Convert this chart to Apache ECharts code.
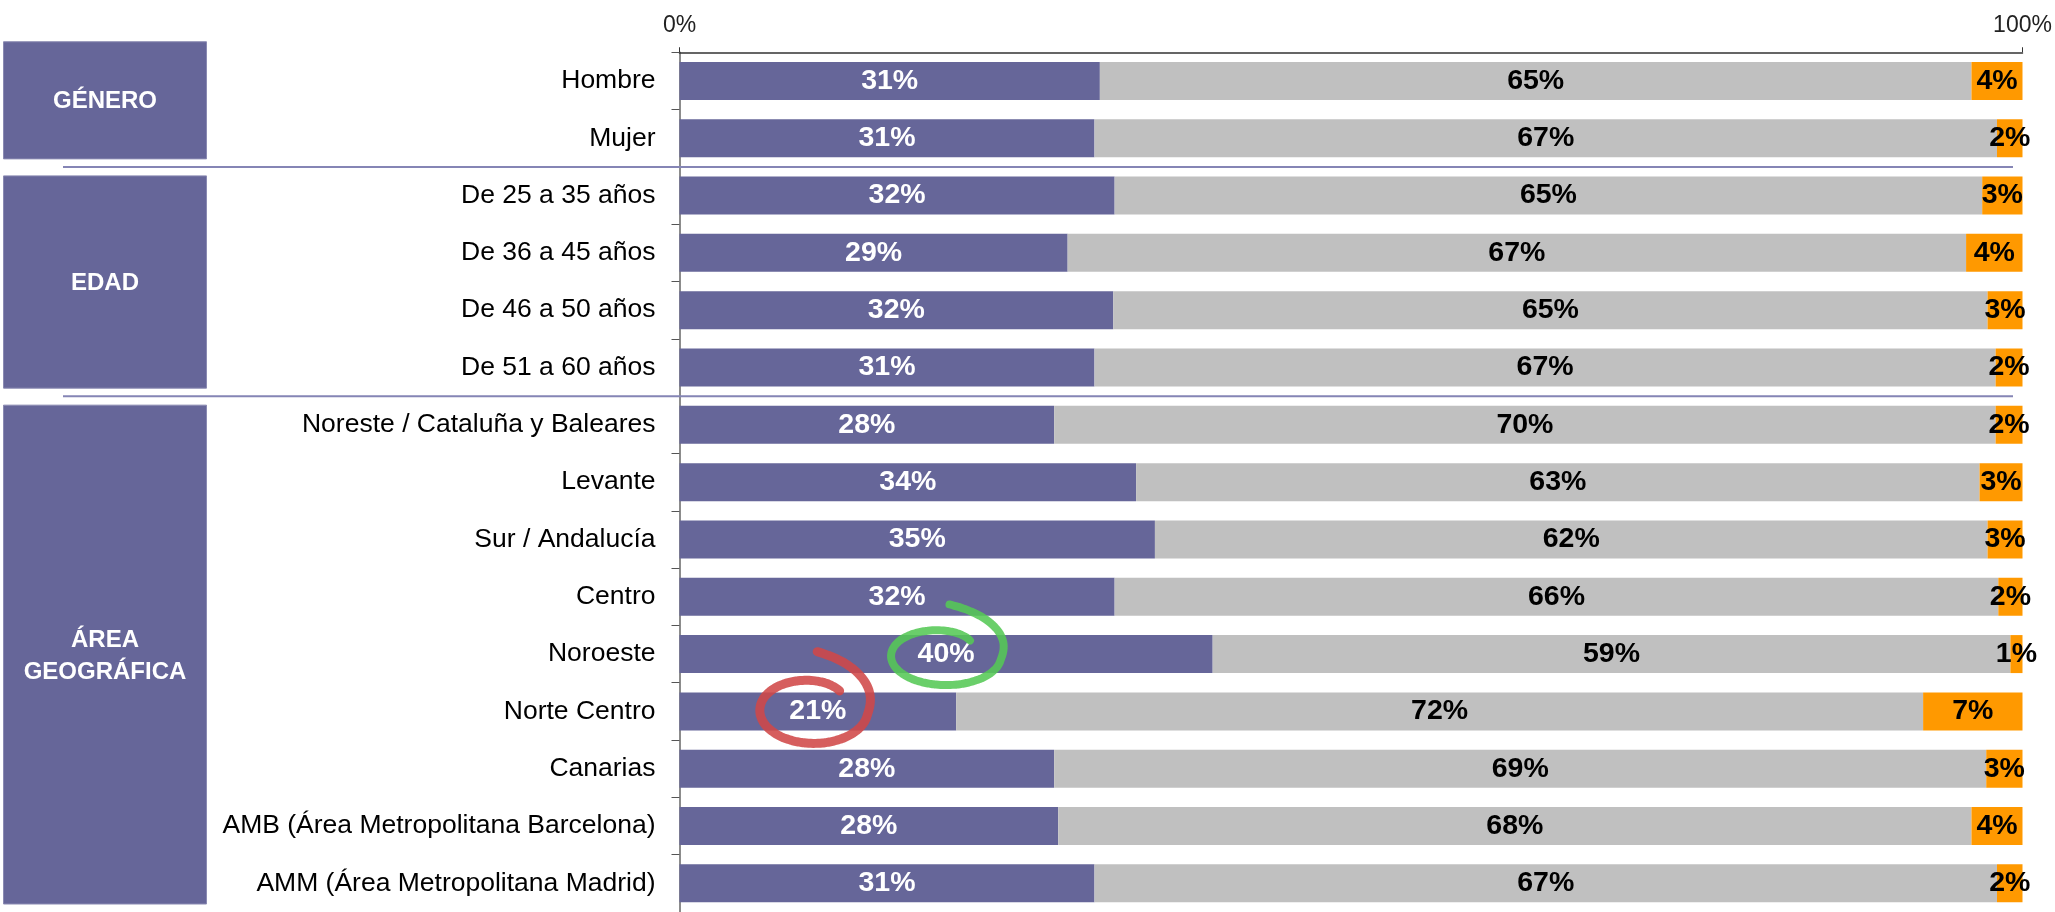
<!DOCTYPE html>
<html><head><meta charset="utf-8">
<script src="https://cdn.jsdelivr.net/npm/echarts@6/dist/echarts.min.js"></script>
<style>html,body{margin:0;padding:0;background:#fff;overflow:hidden}#c{width:2055px;height:912px}</style>
</head><body><div id="c"></div>
<script>
const categories = ['Hombre','Mujer','De 25 a 35 años','De 36 a 45 años','De 46 a 50 años','De 51 a 60 años','Noreste / Cataluña y Baleares','Levante','Sur / Andalucía','Centro','Noroeste','Norte Centro','Canarias','AMB (Área Metropolitana Barcelona)','AMM (Área Metropolitana Madrid)'];
const purple = [31.3,30.9,32.4,28.9,32.3,30.9,27.9,34.0,35.4,32.4,39.7,20.6,27.9,28.2,30.9];
const gray   = [64.9,67.2,64.6,66.9,65.1,67.1,70.1,62.8,62.0,65.8,59.4,72.0,69.4,68.0,67.2];
const orange = [3.8,1.9,3.0,4.2,2.6,2.0,2.0,3.2,2.6,1.8,0.9,7.4,2.7,3.8,1.9];
const xTickValues = [0,100];
const groupNames = ['GÉNERO','EDAD','ÁREA\nGEOGRÁFICA'];
const groupSizes = [2,4,9];
const redRow = 11, greenRow = 10;

const FONT = 'Liberation Sans, Arial, sans-serif';
const chart = echarts.init(document.getElementById('c'), null, {renderer:'canvas'});
const lbl = (color) => ({show:true, position:'inside', color:color, fontSize:28.5, fontWeight:'bold', fontFamily:FONT,
  formatter: p => Math.round(p.value) + '%'});
const option = {
  animation:false,
  textStyle:{fontFamily:FONT},
  grid:{left:679.5, top:52.25, width:1343, height:862.5, containLabel:false},
  xAxis:{type:'value', position:'top', min:xTickValues[0], max:xTickValues[1], interval:100,
    axisLine:{show:true, lineStyle:{color:'#333', width:1.5}},
    axisTick:{show:true, length:5, lineStyle:{color:'#333'}},
    axisLabel:{formatter: v => v + '%', fontSize:23, color:'#222', margin:15, fontFamily:FONT},
    splitLine:{show:false}},
  yAxis:{type:'category', inverse:true, data:categories,
    axisLine:{show:true, lineStyle:{color:'#666', width:1.5}},
    axisTick:{show:true, length:8, lineStyle:{color:'#555'}},
    axisLabel:{fontSize:26.5, color:'#000', margin:24, fontFamily:FONT}},
  series:[
    {type:'bar', stack:'s', data:purple, barWidth:38, itemStyle:{color:'#666699'}, label:lbl('#fff')},
    {type:'bar', stack:'s', data:gray, barWidth:38, itemStyle:{color:'#C0C0C0'}, label:lbl('#000')},
    {type:'bar', stack:'s', data:orange, barWidth:38, itemStyle:{color:'#FF9900'}, label:lbl('#000')}
  ]
};
chart.setOption(option);

const px = (v,i) => chart.convertToPixel({gridIndex:0}, [v,i]);
const band = px(0,1)[1] - px(0,0)[1];
const boundary = i => px(0,i)[1] - band/2;

function spiral(cx, cy, rx, ry, r0){
  const pts=[]; const a0=-51*Math.PI/180; const N=160; const sweep=397;
  for(let k=0;k<=N;k++){
    const u=sweep*k/N;
    const r = 1 - (1-r0)*Math.pow(Math.max(0,1-u/110),2) + 0.78*Math.pow(Math.max(0,(u-300)/97),1.6);
    const a = a0 - u*Math.PI/180;
    pts.push([cx+rx*r*Math.cos(a), cy+ry*r*Math.sin(a)]);
  }
  return pts;
}

const g = [];
let start = 0;
groupSizes.forEach((n, gi) => {
  const top = boundary(start) + (gi===0 ? -10.5 : 9);
  const bottom = Math.min(boundary(start+n) - 8, 930);
  g.push({type:'rect', shape:{x:3.5, y:top, width:203, height:bottom-top},
    style:{fill:'#666699', stroke:'#8a8ab2', lineWidth:1}, z:10});
  g.push({type:'text', x:105, y:(top+Math.min(bottom,915))/2 + 1.5, z:11,
    style:{text:groupNames[gi], fill:'#fff', font:'bold 24px ' + FONT, align:'center', verticalAlign:'middle', lineHeight:32}});
  if (gi>0){
    const y = boundary(start);
    g.push({type:'line', shape:{x1:63, y1:y, x2:2013, y2:y}, style:{stroke:'#8585b5', lineWidth:2}, z:10});
  }
  start += n;
});
const rc = px(purple[redRow]/2, redRow);
g.push({type:'polyline', shape:{points:spiral(rc[0]-4, rc[1]-1, 54, 33, 0.76), smooth:0.3},
  style:{stroke:'rgba(208,72,72,0.88)', lineWidth:9, fill:null, lineCap:'round', lineJoin:'round'}, z:20});
const gc = px(purple[greenRow]/2, greenRow);
g.push({type:'polyline', shape:{points:spiral(gc[0], gc[1]+2, 55, 29, 0.69), smooth:0.3},
  style:{stroke:'rgba(85,200,85,0.88)', lineWidth:8, fill:null, lineCap:'round', lineJoin:'round'}, z:20});
chart.setOption({graphic:g});
</script></body></html>
